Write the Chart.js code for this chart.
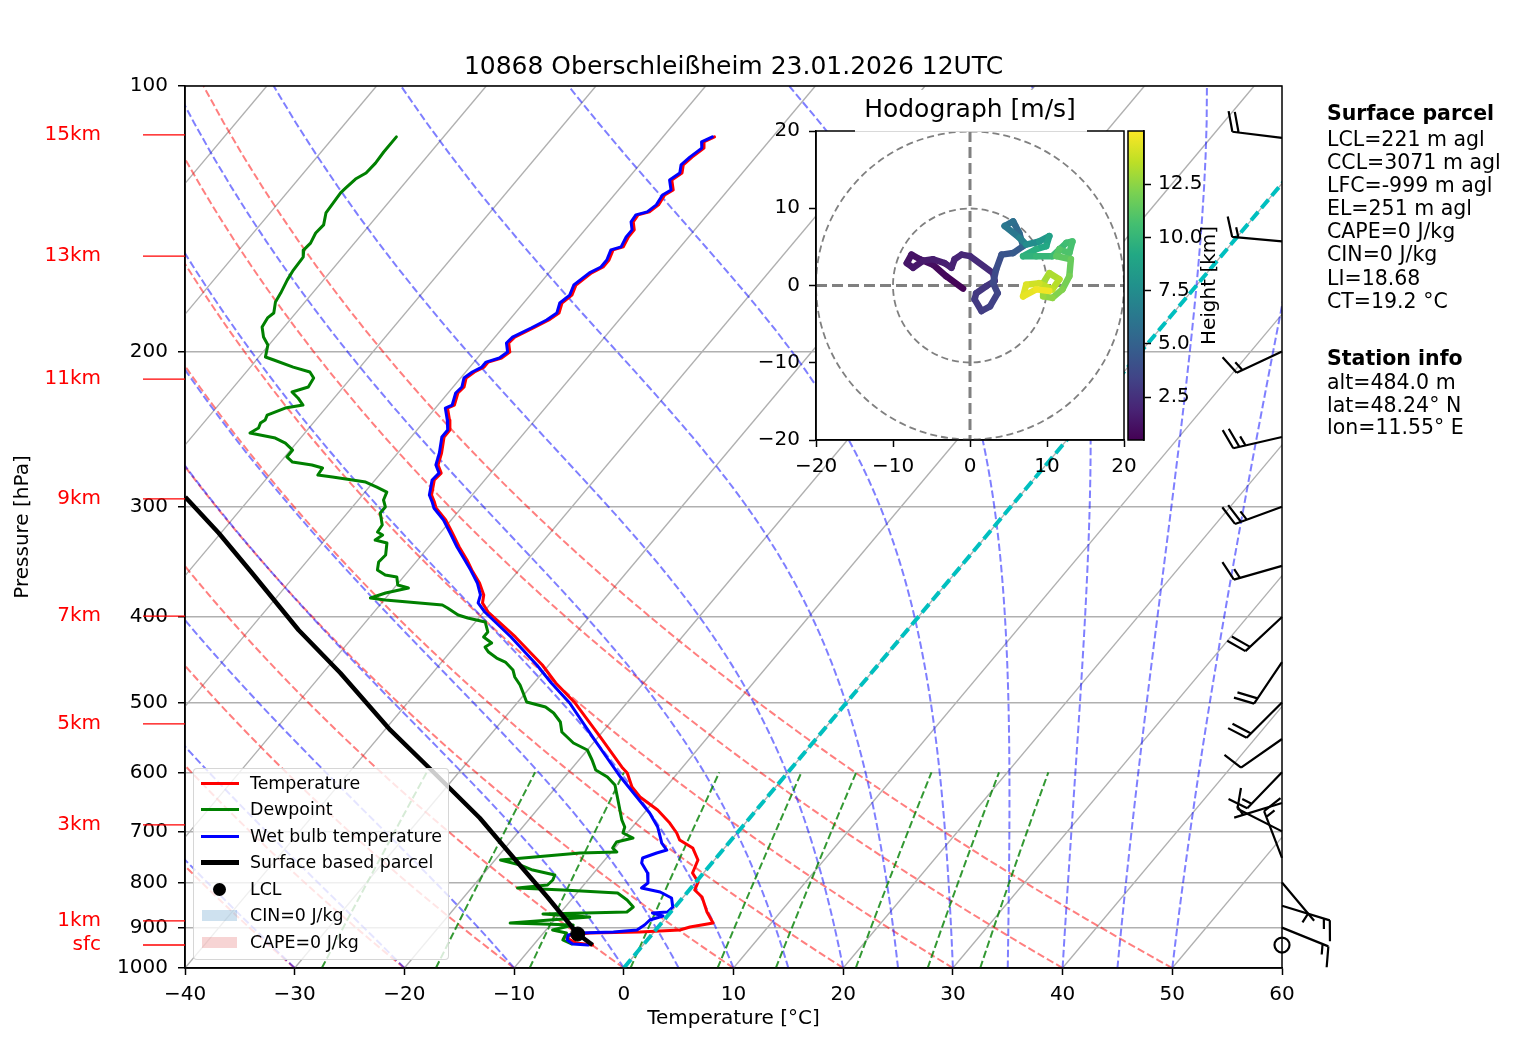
<!DOCTYPE html>
<html>
<head>
<meta charset="utf-8">
<title>Skew-T 10868 Oberschleißheim</title>
<script src="https://cdn.jsdelivr.net/npm/chart.js@4.4.1/dist/chart.umd.min.js"></script>
<style>
  html, body { margin:0; padding:0; background:#fff; }
  #wrap { position:relative; width:1517px; height:1054px; overflow:hidden; font-family:"DejaVu Sans", sans-serif; color:#000; }
  canvas { position:absolute; }
  #title { position:absolute; left:185px; width:1097px; top:51px; text-align:center; font-size:25px; line-height:29px; white-space:nowrap; }
  .info { position:absolute; left:1327px; font-size:20.5px; white-space:nowrap; }
  #legend { position:absolute; left:193px; top:768px; width:256px; height:192px; background:rgba(255,255,255,0.8); border:1px solid rgba(204,204,204,0.8); border-radius:4px; box-sizing:border-box; font-size:17.4px; }
  .lg { position:absolute; left:0; height:26px; width:100%; }
  .lg .sym { position:absolute; left:7px; width:38px; }
  .lg .txt { position:absolute; left:56px; top:3px; line-height:20px; white-space:nowrap; }
</style>
</head>
<body>
<div id="wrap">
  <canvas id="main" width="1517" height="1054" style="left:0;top:0;width:1517px;height:1054px"></canvas>
  <canvas id="hodo" width="440" height="390" style="left:740px;top:90px;width:440px;height:390px"></canvas>
  <canvas id="cbar" width="130" height="390" style="left:1110px;top:90px;width:130px;height:390px"></canvas>
  <div id="title">10868 Oberschleißheim 23.01.2026 12UTC</div>
  <div id="legend"></div>
  <div class="info" style="top:102px;line-height:23.3px;font-weight:bold">Surface parcel</div>
  <div class="info" id="parcelInfo" style="top:128px;line-height:23.1px"></div>
  <div class="info" style="top:347px;line-height:23.3px;font-weight:bold">Station info</div>
  <div class="info" id="stationInfo" style="top:371px;line-height:22.5px"></div>
</div>
<script>
// ---------------- DATA ----------------
const P_TICKS = [100, 200, 300, 400, 500, 600, 700, 800, 900, 1000];
const X_TICKS = [-40, -30, -20, -10, 0, 10, 20, 30, 40, 50, 60];

// Temperature profile (hPa, °C)
const TEMP_P = [114.2,115.7,117.6,120.4,122.9,125.5,127.8,131.2,132.9,136.4,
  138.9,140.0,142.6,145.6,148.3,152.2,153.4,157.5,160.4,162.9,
  168.1,172.6,176.2,180.9,184.2,188.1,192.6,195.6,200.3,203.4,
  205.6,208.3,211.0,214.3,219.4,222.9,230.0,231.8,239.2,245.5,
  250.0,260.7,269.0,274.7,279.7,290.9,296.3,300.9,310.5,321.2,
  333.2,344.7,353.8,366.0,377.6,385.6,394.8,421.4,453.4,475.2,
  500.7,547.2,593.3,601.0,623.4,639.9,662.0,684.9,703.0,715.9,
  731.0,754.3,780.4,798.9,815.8,830.8,864.0,889.2,898.5,905.6,
  910.3,912.7,917.5,924.7,936.8,941.8];
const TEMP_T = [-55.3,-55.9,-55.4,-55.8,-56.0,-55.5,-55.9,-55.0,-55.4,-55.2,
  -55.5,-56.3,-56.2,-55.5,-55.5,-55.2,-55.9,-55.5,-55.5,-56.1,
  -56.6,-56.2,-56.5,-56.0,-56.4,-57.2,-58.2,-58.3,-57.5,-57.8,
  -58.7,-58.7,-59.2,-59.5,-59.0,-59.1,-58.5,-58.9,-57.8,-57.0,
  -57.0,-56.0,-55.4,-54.5,-54.6,-53.7,-52.9,-52.3,-50.5,-48.9,
  -47.2,-45.5,-44.3,-42.6,-41.3,-40.8,-39.6,-35.2,-30.6,-28.0,
  -24.7,-19.8,-15.4,-14.6,-13.1,-11.6,-9.0,-6.9,-5.5,-4.7,
  -2.9,-1.5,-1.0,0.2,0.5,1.7,3.3,4.7,2.9,2.2,
  -1.3,-5.8,-7.4,-7.5,-6.2,-4.6];

// Dewpoint profile (hPa, °C)
const DEWP_P = [114.2,118.8,122.3,125.5,127.5,130.5,132.2,135.7,139.3,143.7,
  146.8,150.7,153.4,156.3,161.7,165.9,171.7,175.7,180.9,183.2,
  187.6,192.6,196.6,202.9,204.5,208.3,211.0,214.3,219.4,222.3,
  225.8,230.0,231.8,236.1,239.2,241.1,244.2,247.4,250.7,254.0,
  258.7,263.4,266.9,269.0,271.1,276.1,277.6,281.2,284.9,288.7,
  294.7,300.1,304.9,314.6,320.4,322.9,327.2,329.7,340.2,346.5,
  353.8,358.5,360.3,367.9,370.8,375.7,380.6,382.6,387.7,390.7,
  397.9,401.0,405.2,415.9,421.4,428.1,432.6,438.3,445.2,449.9,
  459.3,467.8,477.7,487.8,499.4,505.9,513.9,526.1,540.0,555.8,
  566.0,581.0,596.4,607.4,620.2,650.0,679.5,692.0,703.0,712.2,
  719.7,731.0,738.8,740.6,754.3,764.3,774.3,784.4,794.8,805.2,
  811.6,815.8,822.2,837.4,852.8,864.0,868.5,875.4,889.2,893.8,
  905.6,912.7,929.5,939.2];
const DEWP_T = [-84.3,-84.3,-84.2,-84.3,-84.8,-85.0,-85.1,-85.0,-84.9,-84.2,
  -84.3,-84.0,-84.1,-83.6,-83.5,-83.3,-82.9,-82.7,-82.0,-82.2,
  -82.0,-81.1,-80.1,-79.4,-78.4,-76.1,-74.2,-73.4,-73.2,-74.3,
  -73.3,-72.3,-73.7,-74.8,-74.6,-74.8,-74.6,-75.0,-72.3,-71.0,
  -69.8,-69.8,-68.9,-66.9,-65.7,-65.6,-64.1,-60.7,-59.3,-58.0,
  -57.7,-57.0,-57.0,-55.9,-55.8,-55.1,-55.4,-54.1,-53.3,-53.4,
  -52.9,-51.8,-50.6,-49.9,-48.7,-50.4,-51.4,-49.9,-44.3,-43.6,
  -42.1,-41.0,-39.1,-38.1,-38.1,-36.9,-37.2,-36.5,-35.3,-34.2,
  -32.9,-32.2,-31.1,-30.2,-29.2,-27.1,-25.9,-24.6,-23.7,-21.8,
  -20.0,-18.8,-17.7,-16.1,-14.8,-13.1,-11.5,-10.7,-10.4,-9.1,
  -10.3,-10.2,-9.5,-12.8,-19.5,-17.3,-15.8,-13.4,-13.2,-13.3,
  -15.8,-11.5,-6.3,-4.9,-3.8,-4.0,-11.5,-7.0,-13.8,-7.9,
  -9.4,-7.9,-7.7,-6.6];

// Wet bulb temperature profile (hPa, °C)
const WETB_P = [114.2,115.7,117.6,120.4,122.9,125.5,127.8,131.2,132.9,136.4,
  138.9,140.0,142.6,145.6,148.3,152.2,153.4,157.5,160.4,162.9,
  168.1,172.6,176.2,180.9,184.2,188.1,192.6,195.6,200.3,203.4,
  205.6,208.3,211.0,214.3,219.4,222.9,230.0,231.8,239.2,245.5,
  250.0,260.7,269.0,274.7,279.7,290.9,296.3,300.9,310.5,321.2,
  333.2,344.7,353.8,366.0,377.6,385.6,394.8,421.4,453.4,475.2,
  500.7,547.2,581.0,607.4,639.9,667.2,692.0,712.2,721.6,734.9,
  740.6,750.4,760.3,780.4,801.0,811.6,820.0,833.0,852.8,864.0,
  866.2,873.0,882.2,893.8,905.6,910.3,912.7,917.5,929.5,939.2,941.8];
const WETB_T = [-55.5,-56.1,-55.6,-56.0,-56.2,-55.7,-56.1,-55.2,-55.6,-55.4,
  -55.7,-56.5,-56.4,-55.7,-55.7,-55.4,-56.1,-55.7,-55.7,-56.3,
  -56.8,-56.4,-56.7,-56.2,-56.6,-57.4,-58.4,-58.5,-57.7,-58.0,
  -58.9,-58.9,-59.4,-59.7,-59.2,-59.3,-58.7,-59.1,-58.0,-57.2,
  -57.2,-56.2,-55.6,-54.7,-54.8,-53.9,-53.1,-52.5,-50.7,-49.1,
  -47.4,-45.7,-44.4,-42.8,-41.6,-41.2,-39.9,-35.6,-31.1,-28.4,
  -25.2,-20.5,-17.3,-14.9,-11.9,-9.5,-7.7,-6.6,-6.1,-5.1,
  -5.8,-6.7,-6.4,-5.1,-4.3,-4.5,-2.5,-1.0,-0.2,-0.3,
  -1.6,-0.4,-1.3,-1.4,-1.7,-3.7,-6.7,-7.6,-7.3,-6.5,-5.0];

// Surface based parcel path (hPa, °C)
const PARCEL_P = [941.8, 915.1, 830.8, 748.4, 676.0, 591.7, 537.2, 463.0, 413.8, 356.6, 321.2, 292.4];
const PARCEL_T = [-4.6, -6.8, -12.4, -18.6, -24.6, -33.2, -39.5, -48.4, -55.5, -64.1, -70.2, -76.0];
const LCL_P = 915.1;
const LCL_T = -6.8;

// Height markers on the pressure axis
const HEIGHT_LABEL = ['15km', '13km', '11km', '9km', '7km', '5km', '3km', '1km', 'sfc'];
const HEIGHT_P = [113.6, 155.9, 214.9, 293.9, 399.0, 528.8, 688.1, 884.1, 941.7];

// Wind barbs (hPa, direction deg, speed)
const BARB_P = [114.5, 150, 200, 250, 300, 350, 400, 450, 500, 550, 600, 650, 700, 750, 800, 850, 900, 941.8];
const BARB_DIR = [277, 275, 245, 257, 250, 254, 227, 214, 225, 235, 224, 253, 297, 339, 140, 107, 112, 0];
const BARB_SPD = [20, 15, 15, 25, 25, 15, 20, 20, 20, 10, 15, 5, 10, 15, 5, 15, 15, 0];

// Hodograph (m/s) coloured by height (km)
const HODO_U = [-0.9,-3.1,-4.8,-6.5,-7.6,-8.2,-7.4,-6.1,-4.8,-3.3,-2.4,-2.0,-1.1,0.0,3.0,3.2,2.1,0.8,0.6,1.5,
  2.6,3.6,3.0,3.4,4.1,5.6,6.9,6.4,5.6,4.5,6.4,7.3,9.0,10.3,9.9,8.6,6.9,8.6,10.7,12.5,
  13.3,12.9,11.6,11.2,13.1,12.9,12.0,10.7,9.5,9.5,10.3,11.6,10.7,9.0,7.3,6.9,8.6,10.3];
const HODO_V = [-0.4,1.2,2.7,3.4,4.0,2.9,2.3,3.2,3.4,2.9,2.3,3.4,4.0,3.8,1.6,0.6,-0.1,-1.0,-1.8,-3.3,
  -2.7,-1.0,0.3,2.1,4.0,4.2,5.1,6.8,8.3,7.7,6.2,5.3,5.7,6.4,5.1,4.7,3.8,3.8,3.8,5.5,
  5.7,4.2,4.7,3.8,3.4,1.2,-0.5,-1.6,-1.4,0.3,1.6,0.8,-0.5,0.3,0.1,-1.4,-0.5,-0.7];
const HODO_H = [0.5,0.7,0.9,1.1,1.2,1.3,1.4,1.5,1.6,1.7,1.8,1.9,2.0,2.1,2.4,2.6,2.7,2.8,2.9,3.0,
  3.2,3.4,3.6,3.8,4.1,4.4,4.8,5.3,5.7,6.0,6.5,7.2,7.8,8.5,9.0,9.4,9.7,10.0,10.2,10.4,
  10.6,10.8,11.0,11.2,11.4,11.8,12.1,12.4,12.7,12.9,13.1,13.3,13.5,13.8,14.1,14.4,14.6,14.8];
const HODO_TICKS = [-20, -10, 0, 10, 20];
const HODO_RINGS = [10, 20];
const CBAR_MIN = 0.484, CBAR_MAX = 15.0;
const CBAR_TICKS = [2.5, 5.0, 7.5, 10.0, 12.5];

// Text blocks
const PARCEL_INFO = ['LCL=221 m agl', 'CCL=3071 m agl', 'LFC=-999 m agl', 'EL=251 m agl', 'CAPE=0 J/kg', 'CIN=0 J/kg', 'LI=18.68', 'CT=19.2 °C'];
const STATION_INFO = ['alt=484.0 m', 'lat=48.24° N', 'lon=11.55° E'];

// Reference line families of the diagram
const ISOTHERMS = [-110,-100,-90,-80,-70,-60,-50,-40,-30,-20,-10,0,10,20,30,40,50,60];
const DRY_T0 = [-40,-30,-20,-10,0,10,20,30,40,50];
const MOIST_T0 = [-40,-30,-20,-10,0,5,10,15,20,25,30,35,40,45,50];
const MIX_W = [0.0004,0.001,0.002,0.004,0.007,0.01,0.016,0.024,0.032];

// ---------------- HELPERS ----------------
const SKEW = 67.46;
const skewX = (t, p) => t + SKEW * Math.log10(1000 / p);
const fmtMinus = v => (v < 0 ? '\u2212' + Math.abs(v) : String(v));
const RD = 287.04749, CPD = 1004.6662, LV = 2.50084e6, EPS = 0.621957, KAPPA = RD / CPD;

function satVap(tk) { const tc = tk - 273.15; return 6.112 * Math.exp(17.67 * tc / (tc + 243.5)); }
function moistGrad(p, tk) {
  const es = satVap(tk); const rs = EPS * es / (p - es);
  return (RD * tk + LV * rs) / (CPD + LV * LV * rs * EPS / (RD * tk * tk)) / p;
}
function moistLine(t0) {
  let T = t0 + 273.15; const out = [{x: skewX(t0, 1000), y: 1000}]; const h = -10;
  for (let p = 1000; p > 100; p += h) {
    const k1 = moistGrad(p, T), k2 = moistGrad(p + h / 2, T + h / 2 * k1),
          k3 = moistGrad(p + h / 2, T + h / 2 * k2), k4 = moistGrad(p + h, T + h * k3);
    T += h / 6 * (k1 + 2 * k2 + 2 * k3 + k4);
    out.push({x: skewX(T - 273.15, p + h), y: p + h});
  }
  return out;
}
function dryLine(t0) {
  const out = [];
  for (let p = 1000; p >= 100; p -= 10) out.push({x: skewX((t0 + 273.15) * Math.pow(p / 1000, KAPPA) - 273.15, p), y: p});
  return out;
}
function mixLine(w) {
  const out = [];
  for (let i = 0; i <= 20; i++) {
    const p = 1000 - i * 20; const e = p * w / (EPS + w); const l = Math.log(e / 6.112);
    out.push({x: skewX(243.5 * l / (17.67 - l), p), y: p});
  }
  return out;
}
const toPts = (P, T) => P.map((p, i) => ({x: skewX(T[i], p), y: p}));
const lineDs = (data, color, width, dash, order, extra) => Object.assign({
  data, borderColor: color, borderWidth: width, borderDash: dash || [], pointRadius: 0,
  fill: false, tension: 0, order, showLine: true
}, extra || {});

const VIRIDIS = ['#440154','#482475','#414487','#355f8d','#2a788e','#21918c','#22a884','#44bf70','#7ad151','#bddf26','#fde725'];
const hexRgb = h => [parseInt(h.slice(1,3),16), parseInt(h.slice(3,5),16), parseInt(h.slice(5,7),16)];
function viridis(t) {
  t = Math.max(0, Math.min(1, t)); const f = t * 10; const i = Math.min(9, Math.floor(f)); const r = f - i;
  const a = hexRgb(VIRIDIS[i]), b = hexRgb(VIRIDIS[i + 1]);
  return 'rgb(' + a.map((v, k) => Math.round(v + (b[k] - v) * r)).join(',') + ')';
}
const hNorm = h => (h - CBAR_MIN) / (CBAR_MAX - CBAR_MIN);

function drawBarb(ctx, x0, y0, dir, spd) {
  const L = 50, H = 20, SP = 6.25, OUT = 6.25;
  ctx.save(); ctx.strokeStyle = '#000'; ctx.lineWidth = 2.2; ctx.lineCap = 'butt'; ctx.lineJoin = 'miter';
  const s = Math.round(spd / 5) * 5;
  if (s < 5) { ctx.beginPath(); ctx.arc(x0, y0, 7.5, 0, 2 * Math.PI); ctx.stroke(); ctx.restore(); return; }
  const th = dir * Math.PI / 180, dx = Math.sin(th), dy = -Math.cos(th), px = -dy, py = dx;
  ctx.beginPath(); ctx.moveTo(x0, y0); ctx.lineTo(x0 + dx * L, y0 + dy * L);
  const nflag = Math.floor(s / 50); const rem = s - 50 * nflag; const nfull = Math.floor(rem / 10); const half = (rem - 10 * nfull) >= 5;
  let pos = L;
  for (let i = 0; i < nflag; i++) {
    const bx = x0 + dx * pos, by = y0 + dy * pos;
    ctx.moveTo(bx, by); ctx.lineTo(bx + px * H - dx * SP, by + py * H - dy * SP); ctx.lineTo(bx - dx * 2 * SP, by - dy * 2 * SP);
    pos -= 2 * SP + SP / 2;
  }
  for (let i = 0; i < nfull; i++) {
    const bx = x0 + dx * pos, by = y0 + dy * pos;
    ctx.moveTo(bx, by); ctx.lineTo(bx + px * H + dx * OUT, by + py * H + dy * OUT);
    pos -= SP;
  }
  if (half) {
    if (pos === L) pos -= 1.5 * SP;
    const bx = x0 + dx * pos, by = y0 + dy * pos;
    ctx.moveTo(bx, by); ctx.lineTo(bx + px * H / 2 + dx * OUT / 2, by + py * H / 2 + dy * OUT / 2);
  }
  ctx.stroke(); ctx.restore();
}

Chart.defaults.font.family = '"DejaVu Sans", sans-serif';
Chart.defaults.font.size = 20;
Chart.defaults.color = '#000';

// ---------------- MAIN SKEW-T ----------------
const datasets = [];
datasets.push(lineDs([{x: skewX(0, 1000), y: 1000}, {x: skewX(0, 100), y: 100}], '#00bfbf', 4, [11, 5], 0.5));
datasets.push({data: [{x: skewX(LCL_T, LCL_P), y: LCL_P}], showLine: false, pointRadius: 7, pointBackgroundColor: '#000', pointBorderColor: '#000', borderColor: '#000', order: 1});
datasets.push(lineDs(toPts(PARCEL_P, PARCEL_T), '#000', 4.5, [], 2, {borderJoinStyle: 'round'}));
datasets.push(lineDs(toPts(WETB_P, WETB_T), '#0000ff', 3, [], 3, {borderJoinStyle: 'round', borderCapStyle: 'round'}));
datasets.push(lineDs(toPts(DEWP_P, DEWP_T), '#008000', 3, [], 4, {borderJoinStyle: 'round', borderCapStyle: 'round'}));
datasets.push(lineDs(toPts(TEMP_P, TEMP_T), '#ff0000', 3, [], 5, {borderJoinStyle: 'round', borderCapStyle: 'round'}));
MIX_W.forEach(w => datasets.push(lineDs(mixLine(w), 'rgba(0,128,0,0.8)', 2, [7.5, 3.2], 7)));
MOIST_T0.forEach(t => datasets.push(lineDs(moistLine(t), 'rgba(0,0,255,0.5)', 2, [7.5, 3.2], 8)));
DRY_T0.forEach(t => datasets.push(lineDs(dryLine(t), 'rgba(255,0,0,0.5)', 2, [7.5, 3.2], 9)));
ISOTHERMS.forEach(t => datasets.push(lineDs([{x: skewX(t, 1000), y: 1000}, {x: skewX(t, 100), y: 100}], '#b0b0b0', 1.4, [], 10)));

const skewPlugin = {
  id: 'skewExtras',
  afterDraw(chart) {
    const {ctx, chartArea: ca} = chart; const y = chart.scales.y;
    ctx.save();
    ctx.lineWidth = 1.5; ctx.strokeStyle = '#000';
    ctx.strokeRect(ca.left, ca.top, ca.right - ca.left, ca.bottom - ca.top);
    ctx.font = '20px "DejaVu Sans"'; ctx.fillStyle = '#ff0000'; ctx.strokeStyle = '#ff0000'; ctx.lineWidth = 1.3;
    ctx.textAlign = 'right'; ctx.textBaseline = 'middle';
    HEIGHT_P.forEach((p, i) => {
      const py = y.getPixelForValue(p);
      ctx.beginPath(); ctx.moveTo(143, py); ctx.lineTo(ca.left, py); ctx.stroke();
      ctx.fillText(HEIGHT_LABEL[i], 101, py);
    });
    BARB_P.forEach((p, i) => drawBarb(ctx, ca.right, y.getPixelForValue(p), BARB_DIR[i], BARB_SPD[i]));
    ctx.restore();
  }
};

new Chart(document.getElementById('main'), {
  type: 'line',
  data: {datasets},
  options: {
    responsive: false, animation: false, events: [],
    layout: {padding: {left: 0, top: 86, right: 235, bottom: 0}},
    plugins: {legend: {display: false}, tooltip: {enabled: false}, title: {display: false}},
    scales: {
      x: {
        type: 'linear', min: -40, max: 60,
        afterFit: s => { s.height = 86; },
        afterBuildTicks: ax => { ax.ticks = X_TICKS.map(v => ({value: v})); },
        ticks: {callback: v => fmtMinus(v), padding: 8, maxRotation: 0, autoSkip: false, color: '#000'},
        grid: {display: true, drawOnChartArea: false, drawTicks: true, tickLength: 7, tickColor: '#000', tickWidth: 1.5, color: '#000'},
        border: {display: true, color: '#000', width: 1.5},
        title: {display: true, text: 'Temperature [°C]', color: '#000', padding: {top: 0, bottom: 23}}
      },
      y: {
        type: 'logarithmic', reverse: true, min: 100, max: 1000,
        afterFit: s => { s.width = 185; },
        afterBuildTicks: ax => { ax.ticks = P_TICKS.map(v => ({value: v})); },
        ticks: {callback: v => String(v), padding: 10, autoSkip: false, color: '#000'},
        grid: {color: '#b0b0b0', lineWidth: 1.5, tickColor: '#000', tickLength: 7, tickWidth: 1.5},
        border: {display: true, color: '#000', width: 1.5},
        title: {display: true, text: 'Pressure [hPa]', color: '#000', padding: {top: 11, bottom: 0}}
      }
    }
  },
  plugins: [skewPlugin]
});

// ---------------- HODOGRAPH ----------------
const hodoPlugin = {
  id: 'hodoExtras',
  beforeDraw(chart) {
    const {ctx, chartArea: ca} = chart;
    ctx.save(); ctx.fillStyle = '#fff'; ctx.fillRect(ca.left, ca.top, ca.right - ca.left, ca.bottom - ca.top); ctx.restore();
  },
  beforeDatasetsDraw(chart) {
    const {ctx, chartArea: ca} = chart; const x = chart.scales.x, y = chart.scales.y;
    const cx = x.getPixelForValue(0), cy = y.getPixelForValue(0);
    ctx.save();
    ctx.beginPath(); ctx.rect(ca.left, ca.top, ca.right - ca.left, ca.bottom - ca.top); ctx.clip();
    ctx.strokeStyle = '#808080'; ctx.lineWidth = 1.8; ctx.setLineDash([7, 4]);
    HODO_RINGS.forEach(r => { const rp = x.getPixelForValue(r) - cx; ctx.beginPath(); ctx.arc(cx, cy, rp, 0, 2 * Math.PI); ctx.stroke(); });
    ctx.lineWidth = 3; ctx.setLineDash([11, 5]);
    ctx.beginPath(); ctx.moveTo(ca.left, cy); ctx.lineTo(ca.right, cy); ctx.moveTo(cx, ca.top); ctx.lineTo(cx, ca.bottom); ctx.stroke();
    ctx.restore();
  },
  afterDraw(chart) {
    const {ctx, chartArea: ca} = chart;
    ctx.save();
    ctx.strokeStyle = '#000'; ctx.lineWidth = 1.5;
    ctx.strokeRect(ca.left, ca.top, ca.right - ca.left, ca.bottom - ca.top);
    ctx.fillStyle = '#fff'; ctx.fillRect(115, 0, 232, ca.top + 0.8);
    ctx.fillStyle = '#000'; ctx.font = '25px "DejaVu Sans"'; ctx.textAlign = 'center'; ctx.textBaseline = 'middle';
    ctx.fillText('Hodograph [m/s]', (ca.left + ca.right) / 2, 20);
    ctx.restore();
  }
};
new Chart(document.getElementById('hodo'), {
  type: 'line',
  data: {datasets: [{
    data: HODO_U.map((u, i) => ({x: u, y: HODO_V[i]})),
    showLine: true, borderWidth: 6.5, pointRadius: 0, borderJoinStyle: 'round', borderCapStyle: 'round', tension: 0,
    borderColor: viridis(0),
    segment: {borderColor: c => viridis(hNorm((HODO_H[c.p0DataIndex] + HODO_H[c.p1DataIndex]) / 2))}
  }]},
  options: {
    responsive: false, animation: false, events: [],
    layout: {padding: {left: 0, top: 41, right: 56, bottom: 0}},
    plugins: {legend: {display: false}, tooltip: {enabled: false}},
    scales: {
      x: {
        type: 'linear', min: -20, max: 20,
        afterFit: s => { s.height = 40; },
        afterBuildTicks: ax => { ax.ticks = HODO_TICKS.map(v => ({value: v})); },
        ticks: {callback: v => fmtMinus(v), padding: 8, maxRotation: 0, autoSkip: false, color: '#000'},
        grid: {display: true, drawOnChartArea: false, tickLength: 7, tickColor: '#000', tickWidth: 1.5},
        border: {display: true, color: '#000', width: 1.5}
      },
      y: {
        type: 'linear', min: -20, max: 20,
        afterFit: s => { s.width = 76; },
        afterBuildTicks: ax => { ax.ticks = HODO_TICKS.map(v => ({value: v})); },
        ticks: {callback: v => fmtMinus(v), padding: 9, autoSkip: false, color: '#000'},
        grid: {display: true, drawOnChartArea: false, tickLength: 7, tickColor: '#000', tickWidth: 1.5},
        border: {display: true, color: '#000', width: 1.5}
      }
    }
  },
  plugins: [hodoPlugin]
});

// ---------------- COLORBAR ----------------
const cbarPlugin = {
  id: 'cbarExtras',
  beforeDraw(chart) {
    const {ctx, chartArea: ca} = chart;
    const g = ctx.createLinearGradient(0, ca.bottom, 0, ca.top);
    VIRIDIS.forEach((c, i) => g.addColorStop(i / 10, c));
    ctx.save(); ctx.fillStyle = g; ctx.fillRect(ca.left, ca.top, ca.right - ca.left, ca.bottom - ca.top); ctx.restore();
  },
  afterDraw(chart) {
    const {ctx, chartArea: ca} = chart;
    ctx.save();
    ctx.strokeStyle = '#000'; ctx.lineWidth = 1.5;
    ctx.strokeRect(ca.left, ca.top, ca.right - ca.left, ca.bottom - ca.top);
    ctx.translate(100, (ca.top + ca.bottom) / 2); ctx.rotate(-Math.PI / 2);
    ctx.fillStyle = '#000'; ctx.font = '20px "DejaVu Sans"'; ctx.textAlign = 'center'; ctx.textBaseline = 'middle';
    ctx.fillText('Height [km]', 0, 0);
    ctx.restore();
  }
};
new Chart(document.getElementById('cbar'), {
  type: 'line',
  data: {datasets: [{data: []}]},
  options: {
    responsive: false, animation: false, events: [],
    layout: {padding: {left: 18, top: 41, right: 26, bottom: 40}},
    plugins: {legend: {display: false}, tooltip: {enabled: false}},
    scales: {
      x: {type: 'linear', display: false, min: 0, max: 1},
      y: {
        type: 'linear', position: 'right', min: CBAR_MIN, max: CBAR_MAX,
        afterFit: s => { s.width = 70; },
        afterBuildTicks: ax => { ax.ticks = CBAR_TICKS.map(v => ({value: v})); },
        ticks: {callback: v => Number(v).toFixed(1), padding: 7, autoSkip: false, color: '#000'},
        grid: {display: true, drawOnChartArea: false, tickLength: 7, tickColor: '#000', tickWidth: 1.5},
        border: {display: true, color: '#000', width: 1.5}
      }
    }
  },
  plugins: [cbarPlugin]
});

// ---------------- LEGEND & TEXT ----------------
const LEGEND_ITEMS = [
  {label: 'Temperature', kind: 'line', color: '#ff0000', w: 3},
  {label: 'Dewpoint', kind: 'line', color: '#008000', w: 3},
  {label: 'Wet bulb temperature', kind: 'line', color: '#0000ff', w: 3},
  {label: 'Surface based parcel', kind: 'line', color: '#000', w: 5},
  {label: 'LCL', kind: 'dot', color: '#000'},
  {label: 'CIN=0 J/kg', kind: 'patch', color: 'rgba(31,119,180,0.22)'},
  {label: 'CAPE=0 J/kg', kind: 'patch', color: 'rgba(214,39,40,0.2)'}
];
const ROW_CENTERS = [14, 40, 67, 93, 120, 146, 173];
const leg = document.getElementById('legend');
LEGEND_ITEMS.forEach((it, i) => {
  const row = document.createElement('div'); row.className = 'lg'; row.style.top = (ROW_CENTERS[i] - 13) + 'px';
  const sym = document.createElement('div'); sym.className = 'sym';
  if (it.kind === 'line') { sym.style.top = (13 - it.w / 2) + 'px'; sym.style.height = it.w + 'px'; sym.style.background = it.color; }
  else if (it.kind === 'dot') { sym.style.left = '19px'; sym.style.width = '13px'; sym.style.height = '13px'; sym.style.top = '6.5px'; sym.style.borderRadius = '50%'; sym.style.background = it.color; }
  else { sym.style.left = '8px'; sym.style.width = '35px'; sym.style.top = '7.5px'; sym.style.height = '11px'; sym.style.background = it.color; }
  const txt = document.createElement('div'); txt.className = 'txt'; txt.textContent = it.label;
  row.appendChild(sym); row.appendChild(txt); leg.appendChild(row);
});
document.getElementById('parcelInfo').innerHTML = PARCEL_INFO.map(s => '<div>' + s + '</div>').join('');
document.getElementById('stationInfo').innerHTML = STATION_INFO.map(s => '<div>' + s + '</div>').join('');
</script>
</body>
</html>
